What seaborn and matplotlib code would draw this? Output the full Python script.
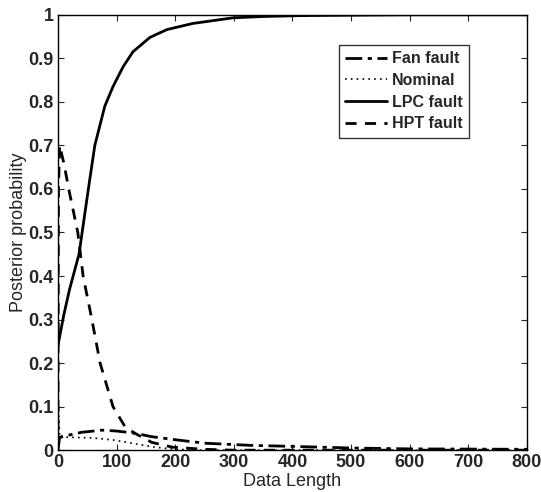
import numpy as np
import pandas as pd
import seaborn as sns
import matplotlib.pyplot as plt

# posterior probability curves
x_lpc = [0, 10, 20, 36, 52, 63, 80, 94, 111, 128, 157, 186, 230, 299, 350, 413, 500, 600, 800]
lpc = [0.24, 0.31, 0.37, 0.45, 0.60, 0.70, 0.79, 0.835, 0.88, 0.915, 0.948, 0.966, 0.98, 0.993, 0.996, 0.998, 0.999, 1.0, 1.0]

x_hpt = [0, 1, 3, 10, 20, 34, 43, 58, 72, 94, 114, 131, 160, 195, 250, 300, 800]
hpt = [0.0, 0.60, 0.70, 0.66, 0.59, 0.50, 0.40, 0.30, 0.20, 0.10, 0.055, 0.039, 0.018, 0.007, 0.002, 0.0, 0.0]

x_fan = [0, 3, 20, 40, 75, 100, 131, 160, 200, 251, 330, 392, 500, 600, 800]
fan = [0.0, 0.03, 0.035, 0.041, 0.046, 0.044, 0.039, 0.031, 0.024, 0.016, 0.011, 0.009, 0.005, 0.003, 0.002]

x_nom = [0, 1, 3, 12, 60, 97, 130, 165, 200, 250, 800]
nom = [0.0, 0.10, 0.028, 0.03, 0.028, 0.023, 0.015, 0.007, 0.002, 0.0, 0.0]

series = [
    ("Fan fault", x_fan, fan, (0, (6, 2, 1.5, 2))),
    ("Nominal", x_nom, nom, (0, (1, 2.5))),
    ("LPC fault", x_lpc, lpc, "-"),
    ("HPT fault", x_hpt, hpt, (0, (4, 3))),
]

frames = []
for name, xs, ys, _ in series:
    frames.append(pd.DataFrame({"Data Length": xs, "p": ys, "model": name}))
df = pd.concat(frames, ignore_index=True)

sns.set_style("ticks")
plt.rcParams["font.family"] = ["Liberation Sans", "DejaVu Sans"]

fig = plt.figure(figsize=(5.41, 4.92), dpi=100)
ax = fig.add_axes([0.107, 0.085, 0.867, 0.885])

for name, xs, ys, ls in series:
    sub = df[df["model"] == name]
    lw = 1.2 if name == "Nominal" else 2.0
    sns.lineplot(data=sub, x="Data Length", y="p", ax=ax, color="black",
                 linestyle=ls, linewidth=lw, label=name, estimator=None, sort=False)

ax.set_xlim(0, 800)
ax.set_ylim(0, 1)
ax.set_xticks(np.arange(0, 801, 100))
ax.set_yticks(np.arange(0, 1.01, 0.1))
ax.set_yticklabels(["0", "0.1", "0.2", "0.3", "0.4", "0.5", "0.6", "0.7", "0.8", "0.9", "1"])
ax.tick_params(direction="in", top=True, right=True, length=4, width=0.8,
               labelsize=13, pad=3)
for lab in ax.get_xticklabels() + ax.get_yticklabels():
    lab.set_fontweight("bold")
for sp in ax.spines.values():
    sp.set_visible(True)
    sp.set_linewidth(1.0)
    sp.set_color("black")
ax.set_xlabel("Data Length", fontsize=13, labelpad=1)
ax.set_ylabel("Posterior probability", fontsize=13, labelpad=1)

leg = ax.legend(loc="upper left", bbox_to_anchor=(0.599, 0.931), frameon=True,
                fancybox=False, edgecolor="black", handlelength=2.6,
                handletextpad=0.3, borderpad=0.4, labelspacing=0.42,
                borderaxespad=0, prop={"weight": "bold", "size": 11.5})
leg.get_frame().set_linewidth(1.0)

fig.savefig("out.png", dpi=100)
